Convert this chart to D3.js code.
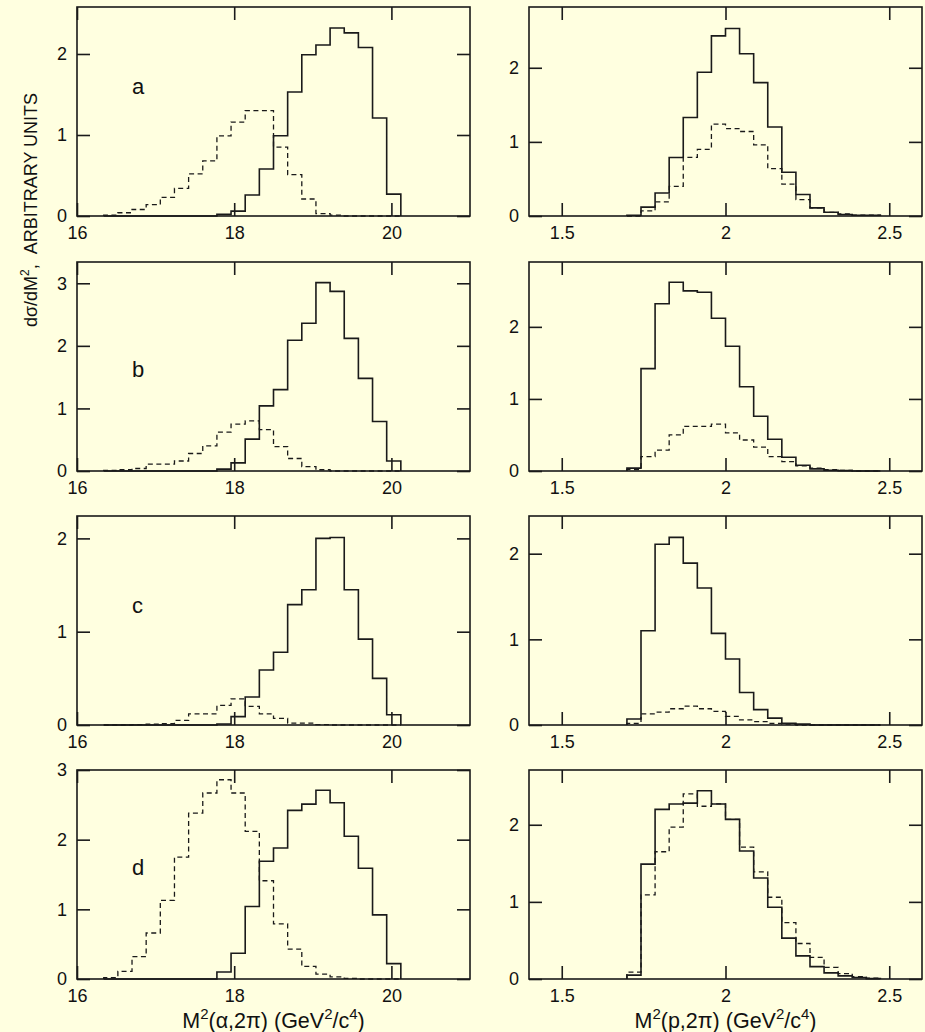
<!DOCTYPE html>
<html>
<head>
<meta charset="utf-8">
<script src="https://cdn.jsdelivr.net/npm/d3@7"></script>
<style>
  body { margin: 0; background: #ffffe0; }
  svg { display: block; font-family: "Liberation Sans", Arial, sans-serif; }
</style>
</head>
<body>
<div id="chart"></div>
<script>
var svgWidth = 925;
var svgHeight = 1032;

// bin layout (first edge, bin width) for the two columns
var leftStart = 16.34, leftBin = 0.18;
var rightStart = 1.699, rightBin = 0.043;

var leftTicks = [16, 18, 20];
var rightTicks = [1.5, 2, 2.5];
var letters = ["a", "b", "c", "d"];

// M2(alpha,2pi) histograms, bins from 16.34 in steps of 0.18
var aSolidL = [0, 0, 0, 0, 0, 0, 0, 0, 0.02, 0.06, 0.26, 0.58, 0.99, 1.53, 1.99, 2.11, 2.32, 2.26, 2.08, 1.21, 0.27];
var aDashL  = [0.01, 0.04, 0.08, 0.14, 0.23, 0.34, 0.52, 0.68, 0.99, 1.16, 1.30, 1.30, 0.85, 0.51, 0.21, 0.03, 0.01, 0, 0, 0, 0];
var bSolidL = [0, 0, 0, 0, 0, 0, 0, 0, 0.03, 0.13, 0.51, 1.04, 1.30, 2.09, 2.36, 3.01, 2.87, 2.12, 1.48, 0.79, 0.16];
var bDashL  = [0.01, 0.02, 0.04, 0.11, 0.11, 0.16, 0.28, 0.40, 0.62, 0.75, 0.80, 0.66, 0.39, 0.20, 0.07, 0.02, 0, 0, 0, 0, 0];
var cSolidL = [0, 0, 0, 0, 0, 0, 0, 0, 0.01, 0.09, 0.30, 0.59, 0.78, 1.29, 1.45, 2.00, 2.01, 1.45, 0.92, 0.50, 0.11];
var cDashL  = [0, 0, 0.005, 0.01, 0.015, 0.05, 0.12, 0.12, 0.21, 0.28, 0.20, 0.12, 0.07, 0.02, 0.02, 0.005, 0, 0, 0, 0, 0];
var dSolidL = [0, 0, 0, 0, 0, 0, 0, 0, 0.10, 0.37, 1.04, 1.69, 1.88, 2.42, 2.51, 2.71, 2.53, 2.05, 1.59, 0.92, 0.22];
var dDashL  = [0.02, 0.11, 0.32, 0.66, 1.13, 1.75, 2.38, 2.67, 2.86, 2.67, 2.12, 1.41, 0.79, 0.43, 0.18, 0.07, 0.03, 0.01, 0, 0, 0];

// M2(p,2pi) histograms, bins from 1.699 in steps of 0.043
var aSolidR = [0.01, 0.12, 0.31, 0.79, 1.33, 1.94, 2.43, 2.53, 2.19, 1.80, 1.20, 0.59, 0.29, 0.11, 0.05, 0.02, 0.01, 0.01];
var aDashR  = [0, 0.07, 0.19, 0.40, 0.79, 0.90, 1.24, 1.18, 1.14, 0.96, 0.64, 0.43, 0.22, 0.11, 0.05, 0.03, 0.01, 0.01];
var bSolidR = [0.04, 1.42, 2.32, 2.62, 2.50, 2.48, 2.12, 1.73, 1.17, 0.76, 0.44, 0.19, 0.08, 0.03, 0.01, 0.005, 0, 0];
var bDashR  = [0.02, 0.20, 0.29, 0.50, 0.62, 0.62, 0.65, 0.53, 0.43, 0.33, 0.20, 0.13, 0.07, 0.04, 0.02, 0.01, 0, 0];
var cSolidR = [0.07, 1.10, 2.11, 2.19, 1.89, 1.60, 1.07, 0.77, 0.38, 0.18, 0.08, 0.02, 0.01, 0, 0, 0, 0, 0];
var cDashR  = [0.02, 0.13, 0.15, 0.19, 0.22, 0.19, 0.16, 0.10, 0.06, 0.04, 0.02, 0.01, 0, 0, 0, 0, 0, 0];
var dSolidR = [0.05, 1.49, 2.20, 2.27, 2.28, 2.44, 2.27, 2.07, 1.66, 1.31, 0.93, 0.53, 0.30, 0.16, 0.08, 0.04, 0.02, 0.005];
var dDashR  = [0.09, 1.09, 1.65, 1.97, 2.40, 2.24, 2.27, 2.07, 1.71, 1.39, 1.06, 0.73, 0.46, 0.28, 0.15, 0.07, 0.03, 0.01];

// y-axis upper limits of each panel
var yMaxLeft = [2.58, 3.34, 2.24, 3.0];
var yMaxRight = [2.82, 2.9, 2.44, 2.71];

// layout
var panelW = 393, panelH = 209;
var colX = [77, 529];
var rowY = [7, 262, 516, 770];
var tickLen = 13;
var ink = "#1a1a1a";

var columns = [
  { domain: [16, 21], start: leftStart, bin: leftBin, ticks: leftTicks,
    solid: [aSolidL, bSolidL, cSolidL, dSolidL], dash: [aDashL, bDashL, cDashL, dDashL], yMax: yMaxLeft },
  { domain: [1.4, 2.6], start: rightStart, bin: rightBin, ticks: rightTicks,
    solid: [aSolidR, bSolidR, cSolidR, dSolidR], dash: [aDashR, bDashR, cDashR, dDashR], yMax: yMaxRight }
];

var svg = d3.select("#chart")
  .append("svg")
  .attr("width", svgWidth)
  .attr("height", svgHeight);

svg.append("rect")
  .attr("width", svgWidth)
  .attr("height", svgHeight)
  .attr("fill", "#ffffe0");

// turn a list of bin contents into step points
function steps(values, start, bin) {
  var pts = [[start, 0]];
  values.forEach(function(v, i) { pts.push([start + i * bin, v]); });
  pts.push([start + values.length * bin, 0]);
  return pts;
}

columns.forEach(function(col, c) {
  var x = d3.scaleLinear().domain(col.domain).range([0, panelW]);

  rowY.forEach(function(top, r) {
    var y = d3.scaleLinear().domain([0, col.yMax[r]]).range([panelH, 0]);
    var yTicks = d3.range(0, Math.floor(col.yMax[r] + 1e-9) + 1);

    var g = svg.append("g")
      .attr("transform", `translate(${colX[c]}, ${top})`);

    var line = d3.line()
      .x(d => x(d[0]))
      .y(d => y(d[1]))
      .curve(d3.curveStepAfter);

    g.append("path")
      .datum(steps(col.dash[r], col.start, col.bin))
      .attr("d", line)
      .attr("fill", "none")
      .attr("stroke", ink)
      .attr("stroke-width", 1.3)
      .attr("stroke-dasharray", "5,3.5");

    g.append("path")
      .datum(steps(col.solid[r], col.start, col.bin))
      .attr("d", line)
      .attr("fill", "none")
      .attr("stroke", ink)
      .attr("stroke-width", 1.6);

    // axes with inward ticks
    g.append("g")
      .attr("transform", `translate(0, ${panelH})`)
      .call(d3.axisBottom(x).tickValues(col.ticks).tickFormat(d => String(d))
        .tickSize(-tickLen).tickPadding(10));
    g.append("g")
      .call(d3.axisTop(x).tickValues(col.ticks).tickFormat("").tickSize(-tickLen));
    g.append("g")
      .call(d3.axisLeft(y).tickValues(yTicks).tickFormat(d3.format("d"))
        .tickSize(-tickLen).tickPadding(10));
    g.append("g")
      .attr("transform", `translate(${panelW}, 0)`)
      .call(d3.axisRight(y).tickValues(yTicks).tickFormat("").tickSize(-tickLen));

    g.selectAll(".domain").remove();
    g.selectAll(".tick line").attr("stroke", ink).attr("stroke-width", 1.6);
    g.selectAll(".tick text")
      .attr("fill", "#111")
      .attr("font-family", "'Liberation Sans', Arial, sans-serif")
      .attr("font-size", 18);

    // frame
    g.append("rect")
      .attr("width", panelW)
      .attr("height", panelH)
      .attr("fill", "none")
      .attr("stroke", ink)
      .attr("stroke-width", 1.6);

    if (c === 0) {
      g.append("text")
        .attr("x", x(16.7))
        .attr("y", y(r === 2 ? 1.2 : 1.5))
        .attr("font-size", 22)
        .attr("fill", "#111")
        .text(letters[r]);
    }
  });
});

// Create axes labels
var yTitle = svg.append("text")
  .attr("transform", "translate(37, 210) rotate(-90)")
  .attr("text-anchor", "middle")
  .attr("font-size", 18)
  .attr("fill", "#111");
yTitle.append("tspan").text("dσ/dM");
yTitle.append("tspan").attr("dy", -8).attr("font-size", 12).text("2");
yTitle.append("tspan").attr("dy", 8).text(",\u00a0\u00a0ARBITRARY UNITS");

function massTitle(cx, inner) {
  var t = svg.append("text")
    .attr("x", cx)
    .attr("y", 1028)
    .attr("text-anchor", "middle")
    .attr("font-size", 21.5)
    .attr("fill", "#111");
  t.append("tspan").text("M");
  t.append("tspan").attr("dy", -9).attr("font-size", 15).text("2");
  t.append("tspan").attr("dy", 9).text(inner + " (GeV");
  t.append("tspan").attr("dy", -9).attr("font-size", 15).text("2");
  t.append("tspan").attr("dy", 9).text("/c");
  t.append("tspan").attr("dy", -9).attr("font-size", 15).text("4");
  t.append("tspan").attr("dy", 9).text(")");
}
massTitle(colX[0] + panelW / 2, "(α,2π)");
massTitle(colX[1] + panelW / 2, "(p,2π)");
</script>
</body>
</html>
